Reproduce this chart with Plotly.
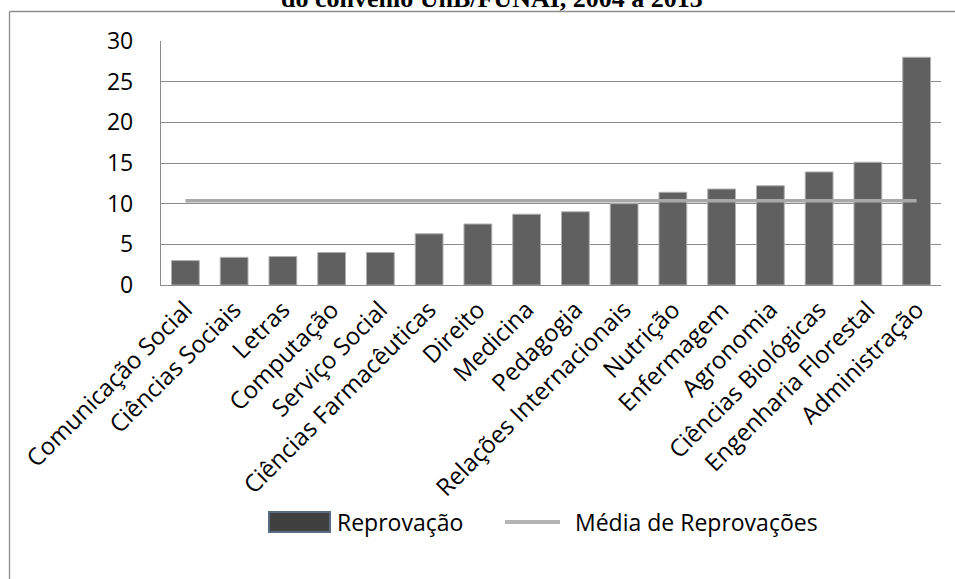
import plotly.graph_objects as go

# Cursos ordenados pelo número de reprovações
cursos = [
    "Comunicação Social", "Ciências Sociais", "Letras", "Computação",
    "Serviço Social", "Ciências Farmacêuticas", "Direito", "Medicina",
    "Pedagogia", "Relações Internacionais", "Nutrição", "Enfermagem",
    "Agronomia", "Ciências Biológicas", "Engenharia Florestal", "Administração",
]
reprovacao = [3.0, 3.4, 3.5, 4.0, 4.0, 6.3, 7.5, 8.7,
              9.0, 10.0, 11.4, 11.8, 12.2, 13.9, 15.1, 28.0]
media_reprovacoes = [10.35, 10.35, 10.35, 10.35, 10.35, 10.35, 10.35, 10.35,
                     10.35, 10.35, 10.35, 10.35, 10.35, 10.35, 10.35, 10.35]
y_ticks = [0, 5, 10, 15, 20, 25, 30]

W, H = 955, 579
L, R, T, B = 161, 14, 41, 294
PW, PH = W - L - R, H - T - B


def px(x):
    return (x - L) / PW


def py(y):
    return (H - B - y) / PH


FONT = "Open Sans"
LEG_Y = 522

fig = go.Figure()
fig.add_trace(go.Bar(
    x=cursos, y=reprovacao, name="Reprovação", width=0.57,
    marker=dict(color="#606060", line=dict(color="#b0b0b0", width=1)),
))
fig.add_trace(go.Scatter(
    x=cursos, y=media_reprovacoes, name="Média de Reprovações", mode="lines",
    line=dict(color="#a8a8a8", width=3.5),
))

shapes = [
    # moldura do gráfico (borda esquerda e superior)
    dict(type="line", xref="paper", yref="paper", x0=px(9.5), x1=px(W + 20),
         y0=py(11.5), y1=py(11.5), line=dict(color="#8c8c8c", width=1.3)),
    dict(type="line", xref="paper", yref="paper", x0=px(9.5), x1=px(9.5),
         y0=py(11.5), y1=py(H + 20), line=dict(color="#8c8c8c", width=1.3)),
    # legenda
    dict(type="rect", xref="paper", yref="paper", x0=px(269), x1=px(330),
         y0=py(LEG_Y - 10), y1=py(LEG_Y + 10), fillcolor="#404040",
         line=dict(color="#5a6a80", width=2)),
    dict(type="line", xref="paper", yref="paper", x0=px(505), x1=px(560),
         y0=py(LEG_Y), y1=py(LEG_Y), line=dict(color="#b4b4b4", width=4)),
]

annotations = [
    dict(text="<b>do convênio UnB/FUNAI, 2004 a 2013</b>", xref="paper",
         yref="paper", x=px(492), y=py(15), xanchor="center", yanchor="bottom",
         showarrow=False,
         font=dict(family="Liberation Serif", size=26, color="#000000")),
    dict(text="Reprovação", xref="paper", yref="paper", x=px(335), y=py(LEG_Y),
         xanchor="left", yanchor="middle", showarrow=False,
         font=dict(family=FONT, size=23, color="#000000")),
    dict(text="Média de Reprovações", xref="paper", yref="paper", x=px(573),
         y=py(LEG_Y), xanchor="left", yanchor="middle", showarrow=False,
         font=dict(family=FONT, size=23, color="#000000")),
]

fig.update_layout(
    width=W, height=H,
    margin=dict(l=L, r=R, t=T, b=B),
    paper_bgcolor="white", plot_bgcolor="white",
    showlegend=False,
    bargap=0.43,
    font=dict(family=FONT, size=22, color="#000000"),
    shapes=shapes,
    annotations=annotations,
)
fig.update_xaxes(
    type="category", tickangle=-45, showgrid=False,
    showline=True, linecolor="#8c8c8c", linewidth=1.3,
    ticks="", ticklabelstandoff=0,
    tickfont=dict(family=FONT, size=24, color="#000000"),
)
fig.update_yaxes(
    range=[0, 30], tickvals=y_ticks, showgrid=True, gridcolor="#8c8c8c",
    gridwidth=1.3, zeroline=False, showline=True, linecolor="#8c8c8c",
    linewidth=1.3, ticks="", ticklabelstandoff=22,
    tickfont=dict(family=FONT, size=23, color="#000000"),
)

fig.write_html("out.html")
